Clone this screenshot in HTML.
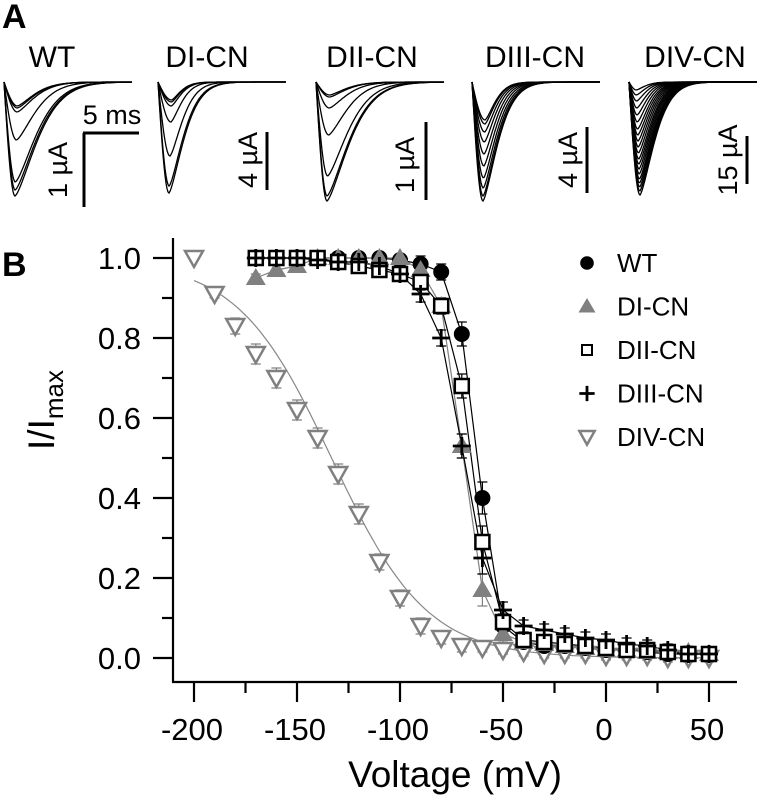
<!DOCTYPE html>
<html><head><meta charset="utf-8">
<style>
html,body{margin:0;padding:0;background:#fff;}
svg{display:block;font-family:"Liberation Sans",Arial,sans-serif;}
</style></head>
<body>
<svg id="fig" width="762" height="798" viewBox="0 0 762 798" xmlns="http://www.w3.org/2000/svg">
  <text x="2" y="28" font-size="34" font-weight="bold">A</text>
  <text x="2" y="276" font-size="34" font-weight="bold">B</text>
  <g id="panelA"></g>
  <g id="panelB"></g>
</svg>
<script>
// ---------- Panel B data ----------
const volts = [-170,-160,-150,-140,-130,-120,-110,-100,-90,-80,-70,-60,-50,-40,-30,-20,-10,0,10,20,30,40,50];
const wtVals   = [1.0,1.0,1.0,1.0,1.0,1.0,1.0,0.995,0.985,0.965,0.81,0.40,0.08,0.04,0.03,0.03,0.025,0.02,0.02,0.015,0.01,0.01,0.01];
const diVals   = [0.95,0.97,0.98,1.0,1.0,1.0,1.0,1.0,0.97,0.88,0.53,0.17,0.06,0.04,0.035,0.03,0.025,0.02,0.02,0.015,0.015,0.015,0.01];
const diiVals  = [1.0,1.0,1.0,1.0,0.99,0.98,0.97,0.96,0.94,0.88,0.68,0.29,0.09,0.045,0.04,0.035,0.03,0.025,0.02,0.02,0.015,0.01,0.01];
const diiiVals = [1.0,1.0,1.0,0.995,0.99,0.99,0.98,0.96,0.91,0.80,0.53,0.25,0.12,0.08,0.07,0.06,0.05,0.045,0.035,0.03,0.02,0.01,0.01];
const divVolts = [-200,-190,-180,-170,-160,-150,-140,-130,-120,-110,-100,-90,-80,-70,-60,-50,-40,-30,-20,-10,0,10,20,30,40,50];
const divVals  = [1.0,0.91,0.83,0.76,0.70,0.62,0.55,0.46,0.36,0.24,0.15,0.08,0.05,0.03,0.025,0.02,0.015,0.01,0.01,0.01,0.005,0.005,0.005,0.0,0.0,0.0];
const divErr   = [0.0,0.01,0.02,0.025,0.025,0.025,0.025,0.025,0.025,0.02,0.02,0.02,0.015,0.015,0.01,0.01,0.01,0.01,0.01,0.01,0.01,0.01,0.01,0.01,0.01,0.01];
const errSmall = [0.01,0.015,0.015,0.01,0.01,0.01,0.01,0.01,0.02,0.02,0.03,0.04,0.02,0.015,0.015,0.015,0.015,0.015,0.015,0.015,0.015,0.015,0.015];
const fitV12 = -133, fitK = 23;
const xTicks = [-200,-150,-100,-50,0,50];
const yTicks = [0,0.2,0.4,0.6,0.8,1.0];

const NS="http://www.w3.org/2000/svg";
function el(tag, attrs, parent){const e=document.createElementNS(NS,tag);for(const k in attrs)e.setAttribute(k,attrs[k]);parent.appendChild(e);return e;}

const B=document.getElementById('panelB');
const X=v=>194+(v+200)*2.06;
const Y=v=>658-v*400;
const axisL=173, axisB=682, axisR=737, axisT=238;

let ax=el('line',{x1:axisL,y1:axisT,x2:axisL,y2:axisB,stroke:'#000','stroke-width':2.2},B);


ax=el('line',{x1:axisL-1,y1:axisB,x2:axisR,y2:axisB,stroke:'#000','stroke-width':2.2},B);


for(let v=-200; v<=50; v+=25){
  const major = (v%50===0);
  const t=el('line',{x1:X(v),y1:axisB,x2:X(v),y2:axisB+(major?20:11),stroke:'#000','stroke-width':2.2},B);
  
  
}
xTicks.forEach(v=>{
  const t=el('text',{x:X(v)-2,y:740,'font-size':31,'text-anchor':'middle'},B);
  t.textContent=v;
  
  
});
for(let i=0;i<=10;i++){
  const v=i/10, major=(i%2===0);
  const t=el('line',{x1:axisL-(major?20:11),y1:Y(v),x2:axisL,y2:Y(v),stroke:'#000','stroke-width':2.2},B);
  
  
}
yTicks.forEach(v=>{
  const t=el('text',{x:141,y:Y(v)+11,'font-size':31,'text-anchor':'end'},B);
  t.textContent=v.toFixed(1);
  
  
});
let xl=el('text',{x:455,y:787,'font-size':37,'text-anchor':'middle'},B);
xl.textContent='Voltage (mV)';


let yl=el('text',{x:0,y:0,'font-size':37,'text-anchor':'middle',transform:'translate(54,410) rotate(-90)'},B);
yl.innerHTML='I/I<tspan font-size="26" dy="9">max</tspan>';



let d='';
for(let v=-200; v<=50; v+=2){const f=1/(1+Math.exp((v-fitV12)/fitK))*0.995;d+=(d?'L':'M')+X(v).toFixed(1)+','+Y(f).toFixed(1);}
let fc=el('path',{d:d,fill:'none',stroke:'#888','stroke-width':1.2},B);



function errBars(vs, vals, errs, color){
  vs.forEach((v,i)=>{
    const e=errs[i]; if(!e) return;
    const x=X(v), y1=Y(vals[i]+e), y2=Y(vals[i]-e);
    const g=el('path',{d:`M${x},${y1}V${y2}M${x-5},${y1}H${x+5}M${x-5},${y2}H${x+5}`,stroke:color,'stroke-width':1.2,fill:'none'},B);
    
    
  });
}
function line(vs, vals, color){
  const p=el('polyline',{points:vs.map((v,i)=>X(v)+','+Y(vals[i])).join(' '),fill:'none',stroke:color,'stroke-width':1.2},B);
  
  
}
function marker(type,x,y,parent,s){
  s=s||1;
  let m;
  if(type==='circle') m=el('circle',{cx:x,cy:y,r:8*s,fill:'#000'},parent);
  else if(type==='tri') m=el('polygon',{points:`${x},${y-10*s} ${x+10*s},${y+7*s} ${x-10*s},${y+7*s}`,fill:'#808080'},parent);
  else if(type==='square') m=el('rect',{x:x-7*s,y:y-7*s,width:14*s,height:14*s,fill:'#fff',stroke:'#000','stroke-width':2.5},parent);
  else if(type==='plus') m=el('path',{d:`M${x-9*s},${y}H${x+9*s}M${x},${y-9*s}V${y+9*s}`,stroke:'#000','stroke-width':2.8},parent);
  else m=el('polygon',{points:`${x-9*s},${y-7*s} ${x+9*s},${y-7*s} ${x},${y+9*s}`,fill:'#fff',stroke:'#808080','stroke-width':2.5},parent);
  return m;
}
function points(vs, vals, type, name){
  vs.forEach((v,i)=>{
    const m=marker(type,X(v),Y(vals[i]),B);
    
    
  });
}
line(volts,wtVals,'#000');
line(volts,diVals,'#808080');
line(volts,diiVals,'#000');
line(volts,diiiVals,'#000');
errBars(divVolts,divVals,divErr,'#808080');
errBars(volts,wtVals,errSmall,'#000');
errBars(volts,diVals,errSmall,'#808080');
errBars(volts,diiVals,errSmall,'#000');
errBars(volts,diiiVals,errSmall,'#000');
points(divVolts,divVals,'dtri','div-cn');
points(volts,wtVals,'circle','wt');
points(volts,diVals,'tri','di-cn');
points(volts,diiVals,'square','dii-cn');
points(volts,diiiVals,'plus','diii-cn');

const legNames=['WT','DI-CN','DII-CN','DIII-CN','DIV-CN'];
const legTypes=['circle','tri','square','plus','dtri'];
const legG=el('g',{},B);


legNames.forEach((n,i)=>{
  const y=263+i*43.5;
  const g=el('g',{},legG);
  
  
  if(legTypes[i]==='square') el('rect',{x:582,y:y-5,width:10,height:10,fill:'#fff',stroke:'#000','stroke-width':2},g);
  else marker(legTypes[i],587,y,g,0.85);
  const t=el('text',{x:617,y:y+9,'font-size':26},g);
  t.textContent=n;
});

// ---------- Panel A traces ----------
const A=document.getElementById('panelA');
const traceTitles=['WT','DI-CN','DII-CN','DIII-CN','DIV-CN'];
const titleX=[52,207,372,535,695];
const traceX0=[4,158,316,472,629];
const tracePeaks=[[196,190,182,140,112,108,106],[193,186,156,122,106,102,100],[201,196,176,135,108,97,95],[201,196,188,178,166,154,142,132,124,120],
 [195,191,187,183,179,174,169,164,159,153,147,141,135,129,122,115,108,101,95,90]];
const scaleLabels=['1 µA','4 µA','1 µA','4 µA','15 µA'];
const barX=[84,267,426,587,747], barY1=[133,132,122,127,136], barY2=[207,190,200,193,184];
const labX=[67,257,414,577,737], labY=[170,160,165,160,160];

traceTitles.forEach((t,i)=>{
  const tt=el('text',{x:titleX[i],y:67,'font-size':30,'text-anchor':'middle'},A);
  tt.textContent=t;
  
  
  const g=el('g',{},A);
  
  
  const x0=traceX0[i], base=82, L=128;
  tracePeaks[i].forEach((py,j)=>{
    const depth=py-base;
    const deep = depth/ (tracePeaks[i][0]-base);
    const tp = 11 + (i===4? (deep-1)*4 : (1-deep)*3);
    const tau = 11 + deep*9 + (i===0||i===2 ? 10 : 0);
    let dd='';
    for(let s=0;s<=L;s+=1){
      let f;
      if(s<tp) f=Math.sin(Math.PI/2*s/tp);
      else f=Math.exp(-Math.pow((s-tp)/tau,1.4));
      const y=base+depth*f;
      dd+=(dd?'L':'M')+(x0+s).toFixed(1)+','+y.toFixed(1);
    }
    el('path',{d:dd,fill:'none',stroke:'#000','stroke-width':1.3},g);
  });
  const sb=el('line',{x1:barX[i],y1:barY1[i],x2:barX[i],y2:barY2[i],stroke:'#000','stroke-width':3},A);
  
  
  const sl=el('text',{x:0,y:0,'font-size':27,'text-anchor':'middle',transform:`translate(${labX[i]},${labY[i]}) rotate(-90)`},A);
  sl.textContent=scaleLabels[i];
  
  
});
const tb=el('line',{x1:83,y1:133,x2:139,y2:133,stroke:'#000','stroke-width':3},A);


const tl=el('text',{x:112,y:124,'font-size':27,'text-anchor':'middle'},A);
tl.textContent='5 ms';


</script>
</body></html>
